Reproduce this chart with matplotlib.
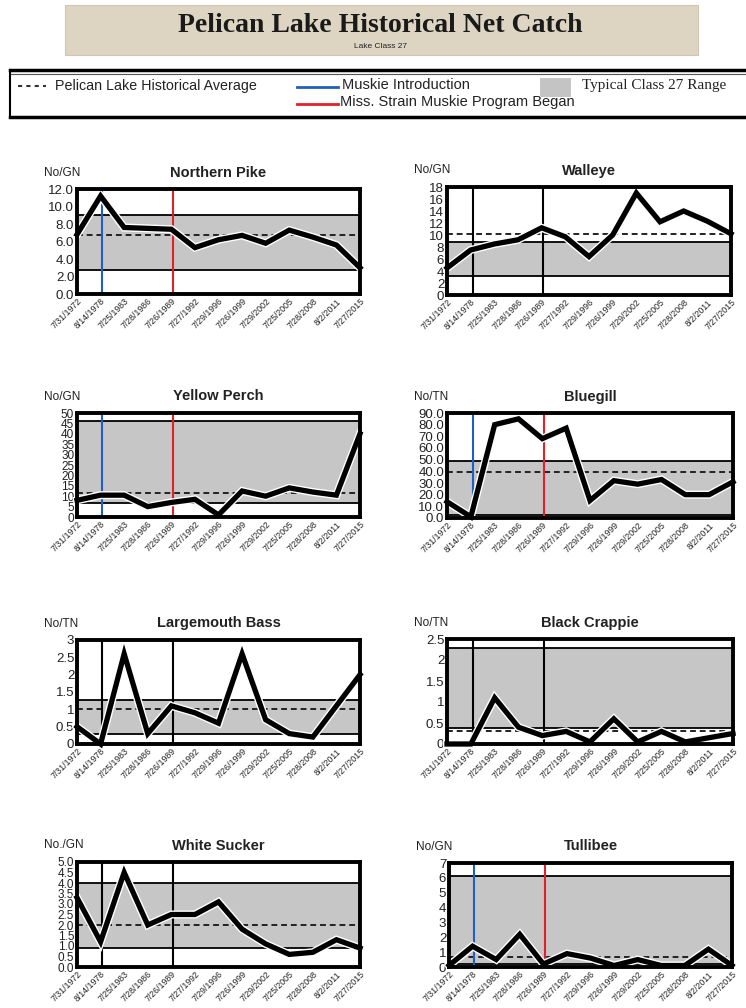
import matplotlib
matplotlib.use("Agg")
import matplotlib.pyplot as plt
import matplotlib.patheffects as pe
from matplotlib.patches import Rectangle
from matplotlib.lines import Line2D

dates = ["7/31/1972", "8/14/1978", "7/25/1983", "7/28/1986", "7/26/1989", "7/27/1992",
         "7/29/1996", "7/26/1999", "7/29/2002", "7/25/2005", "7/28/2008", "8/2/2011", "7/27/2015"]

northern_pike = [6.8, 11.2, 7.6, 7.5, 7.4, 5.3, 6.2, 6.7, 5.8, 7.3, 6.5, 5.6, 3.0]
walleye = [4.5, 7.5, 8.5, 9.2, 11.2, 9.7, 6.4, 10.0, 17.0, 12.2, 14.0, 12.3, 10.2]
yellow_perch = [8.0, 10.5, 10.5, 5.0, 7.0, 8.5, 1.0, 12.5, 10.0, 14.0, 12.0, 10.5, 40.0]
bluegill = [14.0, 1.0, 80.0, 85.0, 68.0, 77.0, 15.0, 32.0, 29.0, 33.0, 20.0, 20.0, 31.0]
largemouth_bass = [0.5, 0.0, 2.6, 0.3, 1.1, 0.9, 0.6, 2.6, 0.7, 0.3, 0.2, 1.1, 2.0]
black_crappie = [0.0, 0.0, 1.1, 0.4, 0.2, 0.3, 0.05, 0.6, 0.05, 0.3, 0.05, 0.15, 0.25]
white_sucker = [3.3, 1.2, 4.5, 2.0, 2.5, 2.5, 3.1, 1.8, 1.1, 0.6, 0.7, 1.3, 0.9]
tullibee = [0.1, 1.4, 0.5, 2.2, 0.2, 0.9, 0.6, 0.1, 0.5, 0.1, 0.1, 1.2, 0.1]

# (title, unit, values, band_low, band_high, average, ymax, ystep, fmt, marker colors)
panels = [
    ("Northern Pike", "No/GN", northern_pike, 2.8, 9.0, 6.7, 12, 2, "{:.1f}", ("#1f5fbf", "#e0202a")),
    ("Walleye", "No/GN", walleye, 3.2, 8.8, 10.2, 18, 2, "{:.0f}", ("black", "black")),
    ("Yellow Perch", "No/GN", yellow_perch, 6.5, 46.0, 11.5, 50, 5, "{:.0f}", ("#1f5fbf", "#e0202a")),
    ("Bluegill", "No/TN", bluegill, 3.0, 49.0, 39.5, 90, 10, "{:.1f}", ("#1f5fbf", "#e0202a")),
    ("Largemouth Bass", "No/TN", largemouth_bass, 0.28, 1.28, 1.0, 3, 0.5, "{:g}", ("black", "black")),
    ("Black Crappie", "No/TN", black_crappie, 0.38, 2.28, 0.3, 2.5, 0.5, "{:g}", ("black", "black")),
    ("White Sucker", "No./GN", white_sucker, 0.9, 4.0, 2.0, 5.0, 0.5, "{:.1f}", ("black", "black")),
    ("Tullibee", "No/GN", tullibee, 0.2, 6.1, 0.7, 7, 1, "{:.0f}", ("#1f5fbf", "#e0202a")),
]

# axes boxes in pixels: left, top, right, bottom
boxes = [
    (77, 189, 360, 294), (447, 187, 731, 295),
    (77, 413, 360, 517), (447, 413, 733, 518),
    (77, 640, 360, 744), (447, 639, 733, 744),
    (77, 862, 360, 967), (449, 863, 732, 967),
]

W, H = 746, 1008
fig = plt.figure(figsize=(W / 100, H / 100), dpi=100)
fig.patch.set_facecolor("white")

# Title banner
fig.patches.append(Rectangle((65 / W, 1 - 55 / H), (698 - 65) / W, 50 / H,
                             transform=fig.transFigure, facecolor="#ddd5c2",
                             edgecolor="#cfc7b3", lw=0.8))
fig.text(380 / W, 1 - 25 / H, "Pelican Lake Historical Net Catch", ha="center", va="center",
         fontsize=20, fontweight="bold", family="Liberation Serif", color="#1a1a1a")
fig.text(380 / W, 1 - 46 / H, "Lake Class 27", ha="center", va="center", fontsize=6,
         family="Liberation Sans", color="#222222")

# Legend box
fig.add_artist(Line2D([10 / W, 1], [1 - 70 / H, 1 - 70 / H], transform=fig.transFigure, color="black", lw=2.5))
fig.add_artist(Line2D([10 / W, 1], [1 - 74 / H, 1 - 74 / H], transform=fig.transFigure, color="#555555", lw=0.8))
fig.add_artist(Line2D([10 / W, 1], [1 - 117 / H, 1 - 117 / H], transform=fig.transFigure, color="black", lw=2.5))
fig.add_artist(Line2D([10 / W, 10 / W], [1 - 117 / H, 1 - 70 / H], transform=fig.transFigure, color="black", lw=1.5))
fig.add_artist(Line2D([18 / W, 46 / W], [1 - 86 / H, 1 - 86 / H], transform=fig.transFigure,
                      color="#333333", lw=1.5, ls=(0, (2, 2))))
fig.text(55 / W, 1 - 86 / H, "Pelican Lake Historical Average", va="center", fontsize=10.3,
         family="Liberation Sans", color="#222222")
fig.add_artist(Line2D([297 / W, 338 / W], [1 - 87 / H, 1 - 87 / H], transform=fig.transFigure,
                      color="#1f5fbf", lw=2))
fig.text(342 / W, 1 - 85 / H, "Muskie Introduction", va="center", fontsize=10.5,
         family="Liberation Sans", color="#222222")
fig.add_artist(Line2D([297 / W, 338 / W], [1 - 104 / H, 1 - 104 / H], transform=fig.transFigure,
                      color="#e0202a", lw=2))
fig.text(340 / W, 1 - 102 / H, "Miss. Strain Muskie Program Began", va="center", fontsize=10.5,
         family="Liberation Sans", color="#222222")
fig.patches.append(Rectangle((540 / W, 1 - 96 / H), 30 / W, 18 / H, transform=fig.transFigure,
                             facecolor="#c4c4c4", edgecolor="#bbbbbb", lw=0.5))
fig.text(582 / W, 1 - 86 / H, "Typical Class 27 Range", va="center", fontsize=11,
         family="Liberation Serif", color="#222222")

x = list(range(len(dates)))
for (title, unit, vals, lo, hi, avg, ymax, ystep, fmt, vcols), (l, t, r, b) in zip(panels, boxes):
    ax = fig.add_axes([l / W, 1 - b / H, (r - l) / W, (b - t) / H])
    ax.set_xlim(0, len(dates) - 1)
    ax.set_ylim(0, ymax)
    ax.axhspan(lo, hi, color="#c6c6c6", lw=0, zorder=1)
    ax.axhline(lo, color="black", lw=1.3, zorder=2)
    ax.axhline(hi, color="black", lw=1.3, zorder=2)
    ax.axhline(avg, color="#222222", lw=1.4, ls=(0, (3, 2)), zorder=3)
    ax.axvline(1.08, color=vcols[0], lw=1.5, zorder=3)
    ax.axvline(4.07, color=vcols[1], lw=1.5, zorder=3)
    ax.plot(x, vals, color="black", lw=3.8, zorder=5, solid_joinstyle="miter", clip_on=False,
            path_effects=[pe.Stroke(linewidth=5.8, foreground="white"), pe.Normal()])
    n = int(round(ymax / ystep))
    ticks = [i * ystep for i in range(n + 1)]
    ax.set_yticks(ticks)
    ylfs = 9.5 if n <= 9 else 8.5
    ax.set_yticklabels([fmt.format(v) for v in ticks], fontsize=ylfs, family="Liberation Sans",
                       color="#222222")
    ax.set_xticks(x)
    ax.set_xticklabels(dates, rotation=45, ha="right", rotation_mode="anchor", fontsize=6.3,
                       family="Liberation Sans", color="#222222")
    ax.tick_params(length=0, pad=2)
    for s in ax.spines.values():
        s.set_linewidth(2.8)
        s.set_color("black")
        s.set_zorder(6)
    ax.set_title(title, fontsize=10.5, fontweight="bold", family="Liberation Sans", pad=9,
                 color="#222222")
    ax.text(-0.115, 1.1, unit, transform=ax.transAxes, fontsize=8.5, family="Liberation Sans",
            ha="left", va="bottom", color="#222222")

fig.savefig("out.png", dpi=100)
